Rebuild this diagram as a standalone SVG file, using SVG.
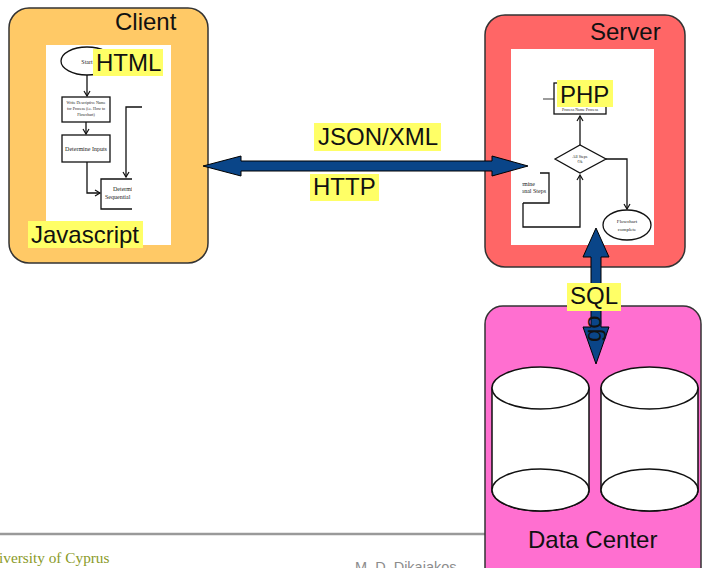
<svg xmlns="http://www.w3.org/2000/svg" width="702" height="568" viewBox="0 0 702 568">
  <style>
    .tier { stroke: #333; stroke-width: 1.5; }
    .pane { fill: #fff; }
    .title { font-family: "Liberation Sans", Arial, sans-serif; font-size: 24px; fill: #111; }
    .tag { fill: #ffff66; }
    .fc { fill: none; stroke: #111; stroke-width: 1.3; }
    .fcbox { fill: #fff; stroke: #111; stroke-width: 1.3; }
    .tiny { font-family: "Liberation Serif", "Times New Roman", serif; fill: #222; text-anchor: middle; }
    .pipe { fill: #0a4588; stroke: #000; stroke-width: 1; }
    .disk { fill: #fff; stroke: #111; stroke-width: 1.5; }
  </style>
  <defs>
    <marker id="vhead" markerUnits="userSpaceOnUse" markerWidth="8" markerHeight="8" refX="6" refY="4" orient="auto">
      <path d="M1,1 L6,4 L1,7" fill="none" stroke="#111" stroke-width="1.2"/>
    </marker>
    <clipPath id="clientCrop"><rect x="46" y="45" width="86" height="200"/></clipPath>
    <clipPath id="serverCrop"><rect x="522" y="49" width="132" height="196"/></clipPath>
  </defs>

  <!-- footer rule and credits -->
  <g id="footer">
    <line x1="0" y1="534" x2="490" y2="534" stroke="#9a9a9a" stroke-width="2.5"/>
    <text x="-1" y="563" font-family="'Liberation Serif', 'Times New Roman', serif" font-size="15.3" fill="#8a9a28">iversity of Cyprus</text>
    <text x="355" y="572" font-family="'Liberation Sans', Arial, sans-serif" font-size="14.5" fill="#8c8c8c">M. D. Dikaiakos</text>
  </g>

  <!-- client tier -->
  <g id="client">
    <rect class="tier" x="9" y="8" width="199" height="255" rx="20" fill="#ffc966"/>
    <text class="title" x="115" y="30">Client</text>
    <rect class="pane" x="46" y="45" width="125" height="200"/>
    <g clip-path="url(#clientCrop)">
      <ellipse class="fcbox" cx="87" cy="61" rx="26" ry="14"/>
      <text class="tiny" x="87" y="64" font-size="6">Start</text>
      <line class="fc" x1="87" y1="75" x2="87" y2="96" marker-end="url(#vhead)"/>
      <rect class="fcbox" x="62" y="97" width="48" height="25"/>
      <text class="tiny" x="86" y="104" font-size="4">Write Descriptive Name</text>
      <text class="tiny" x="86" y="110" font-size="4">for Process (i.e. How to</text>
      <text class="tiny" x="86" y="116" font-size="4">Flowchart)</text>
      <line class="fc" x1="86" y1="122" x2="86" y2="134" marker-end="url(#vhead)"/>
      <rect class="fcbox" x="62" y="135" width="48" height="27"/>
      <text class="tiny" x="86" y="151" font-size="6">Determine Inputs</text>
      <polyline class="fc" points="87,162 87,193 100,193" marker-end="url(#vhead)"/>
      <path class="fc" d="M140,179 H101 V209 H140"/>
      <text x="113" y="191" font-family="'Liberation Serif', serif" font-size="6" fill="#222">Determine</text>
      <text x="105" y="199" font-family="'Liberation Serif', serif" font-size="6" fill="#222">Sequential</text>
    </g>
    <polyline class="fc" points="142,107 126,107 126,177" marker-end="url(#vhead)"/>
  </g>

  <!-- server tier -->
  <g id="server">
    <rect class="tier" x="485" y="15" width="200" height="252" rx="20" fill="#ff6666"/>
    <text class="title" x="590" y="40">Server</text>
    <rect class="pane" x="511" y="49" width="143" height="196"/>
    <line x1="543" y1="99" x2="554" y2="99" stroke="#666" stroke-width="1.3"/>
    <rect class="fcbox" x="554" y="83" width="52" height="31"/>
    <text class="tiny" x="580" y="111" font-size="4">Process Name Process</text>
    <line class="fc" x1="580" y1="145" x2="580" y2="116" marker-end="url(#vhead)"/>
    <polygon class="fcbox" points="555,159 580,145 606,159 580,173"/>
    <text class="tiny" x="580" y="158" font-size="4">All Steps</text>
    <text class="tiny" x="580" y="163" font-size="4">Ok</text>
    <polyline class="fc" points="606,159 627,159 627,209" marker-end="url(#vhead)"/>
    <ellipse class="fcbox" cx="627" cy="225" rx="24" ry="15"/>
    <text class="tiny" x="627" y="223" font-size="5">Flowchart</text>
    <text class="tiny" x="627" y="231" font-size="5">complete</text>
    <g clip-path="url(#serverCrop)">
      <path class="fc" d="M540,173 H549 V203 H523"/>
      <text x="535" y="186" font-family="'Liberation Serif', serif" font-size="6" fill="#222" text-anchor="end">Determine</text>
      <text x="546" y="193" font-family="'Liberation Serif', serif" font-size="6" fill="#222" text-anchor="end">Additional Steps</text>
    </g>
    <polyline class="fc" points="523,203 523,227 580,227 580,175" marker-end="url(#vhead)"/>
  </g>

  <!-- data tier -->
  <g id="datacenter">
    <rect class="tier" x="485" y="306" width="216" height="290" rx="18" fill="#ff6fd0"/>
    <g id="disk-a">
      <path class="disk" d="M492,388 V490 A48.5,21 0 0 0 589,490 V388 Z"/>
      <ellipse class="disk" cx="540.5" cy="490" rx="48.5" ry="21"/>
      <ellipse class="disk" cx="540.5" cy="388" rx="48.5" ry="21"/>
    </g>
    <g id="disk-b">
      <path class="disk" d="M601,388 V490 A48.5,21 0 0 0 698,490 V388 Z"/>
      <ellipse class="disk" cx="649.5" cy="490" rx="48.5" ry="21"/>
      <ellipse class="disk" cx="649.5" cy="388" rx="48.5" ry="21"/>
    </g>
    <text class="title" x="528" y="548">Data Center</text>
  </g>

  <!-- connectors -->
  <g id="connectors">
    <polygon class="pipe" points="203,166 241,156 241,161 492,161 492,156 528,166 492,176 492,171 241,171 241,176"/>
    <polygon class="pipe" points="596,228 609,257 601,257 601,327 609,327 596,364 583,327 591,327 591,257 583,257"/>
    <text x="601" y="342" transform="rotate(-90 601 342)" font-family="'Liberation Sans', Arial, sans-serif" font-size="24" fill="#111">go</text>
  </g>

  <!-- protocol / technology tags -->
  <g id="labels">
    <rect class="tag" x="93" y="49" width="70" height="27"/>
    <text class="title" x="96" y="71">HTML</text>
    <rect class="tag" x="28" y="221" width="115" height="27"/>
    <text class="title" x="31" y="243">Javascript</text>
    <rect class="tag" x="314" y="123" width="127" height="28"/>
    <text class="title" x="318" y="145">JSON/XML</text>
    <rect class="tag" x="310" y="174" width="69" height="27"/>
    <text class="title" x="313" y="195">HTTP</text>
    <rect class="tag" x="557" y="80" width="56" height="27"/>
    <text class="title" x="560" y="103">PHP</text>
    <rect class="tag" x="567" y="283" width="54" height="28"/>
    <text class="title" x="570" y="304">SQL</text>
  </g>
</svg>
